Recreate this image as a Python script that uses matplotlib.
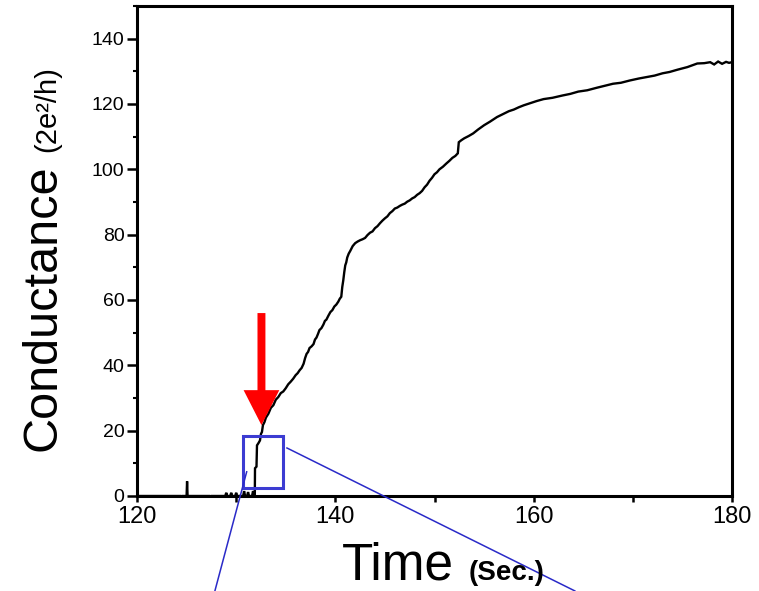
import matplotlib
matplotlib.use("Agg")
import matplotlib.pyplot as plt
from matplotlib.lines import Line2D
from matplotlib.patches import Rectangle

plt.rcParams['font.family'] = ['Liberation Sans', 'DejaVu Sans']

# ---- data ----
time_s = [120.0, 124.4, 124.5, 124.6, 125.0, 125.05, 125.1, 125.15, 127.3, 127.4, 127.5,
          128.9, 129.0, 129.1, 129.4, 129.5, 129.6, 129.9, 130.0, 130.1, 130.35, 130.4, 130.45,
          130.7, 130.8, 130.9, 131.1, 131.2, 131.3, 131.6, 131.7, 131.8,
          131.88, 131.9, 132.05, 132.1, 132.25, 132.4, 132.5, 132.6, 132.7, 132.85, 133.0,
          133.25, 133.5, 133.75, 134.0, 134.25, 134.5, 134.75, 135.0, 135.25, 135.5, 135.75,
          136.0, 136.2, 136.4, 136.6, 136.8, 136.95, 137.1, 137.25, 137.4, 137.6, 137.8,
          137.95, 138.1, 138.25, 138.4, 138.6, 138.8, 138.95, 139.1, 139.3, 139.5, 139.7,
          139.9, 140.1, 140.3, 140.45, 140.6, 140.65, 140.7, 140.8, 140.9, 141.0, 141.1,
          141.2, 141.35, 141.5, 141.75, 142.0, 142.25, 142.5, 142.75, 143.0, 143.25, 143.5,
          143.75, 144.0, 144.25, 144.5, 144.75, 145.0, 145.25, 145.5, 145.75, 146.0, 146.25,
          146.5, 146.75, 147.0, 147.25, 147.5, 147.75, 148.0, 148.25, 148.5, 148.75, 149.0,
          149.25, 149.5, 149.75, 150.0, 150.25, 150.5, 150.85, 151.2, 151.5, 151.8, 152.1,
          152.35, 152.45, 152.7, 153.0, 153.45, 153.9, 154.4, 155.0, 155.6, 156.3, 156.9,
          157.5, 158.0, 158.5, 159.0, 159.6, 160.3, 161.0, 161.9, 162.9, 163.7, 164.5,
          165.4, 166.4, 167.2, 168.0, 168.8, 169.7, 170.6, 171.5, 172.2, 173.0, 173.7,
          174.5, 175.5, 176.5, 177.2, 177.8, 178.2, 178.6, 179.0, 179.4, 179.7, 180.0]
conductance = [0.0, 0.0, -0.6, 0.0, 0.0, 4.5, 0.0, 0.0, 0.0, -0.5, 0.0,
               0.0, 1.0, 0.0, 0.0, 1.0, 0.0, 0.0, 1.0, 0.0, 0.0, -1.0, 0.0,
               0.0, 1.5, 0.0, 0.0, 1.2, 0.0, 0.0, 1.5, 0.3,
               0.5, 8.5, 9.0, 15.5, 16.2, 17.0, 19.0, 19.6, 21.7, 22.6, 24.0,
               25.2, 27.0, 27.8, 29.5, 30.3, 31.5, 32.0, 33.0, 34.2, 35.0, 35.9,
               37.0, 37.6, 38.5, 39.2, 40.5, 42.2, 43.5, 44.1, 45.3, 45.8, 46.5,
               47.9, 48.5, 49.6, 50.8, 51.4, 52.5, 53.6, 54.0, 55.2, 56.3, 56.9,
               58.0, 58.6, 59.5, 60.4, 61.0, 62.5, 64.0, 66.0, 68.5, 70.6, 71.5,
               73.0, 74.2, 75.0, 76.5, 77.4, 77.9, 78.3, 78.6, 79.0, 79.9, 80.6,
               81.0, 82.0, 82.6, 83.5, 84.3, 85.0, 85.6, 86.6, 87.2, 88.0, 88.3,
               88.8, 89.2, 89.5, 90.1, 90.5, 91.1, 91.5, 92.2, 92.7, 93.4, 94.5,
               95.3, 96.5, 97.4, 98.5, 99.1, 100.0, 100.8, 101.8, 102.6, 103.5, 104.1,
               104.9, 108.3, 108.9, 109.5, 110.2, 111.0, 112.2, 113.5, 114.6, 116.0, 116.9,
               117.8, 118.3, 119.0, 119.6, 120.2, 120.9, 121.5, 121.9, 122.6, 123.1, 123.8,
               124.2, 125.0, 125.6, 126.2, 126.5, 127.2, 127.8, 128.3, 128.7, 129.4, 129.8,
               130.5, 131.3, 132.4, 132.5, 132.8, 132.1, 133.0, 132.3, 132.9, 132.6, 132.8]

x_ticks = [120, 140, 160, 180]
y_ticks = [0, 20, 40, 60, 80, 100, 120, 140]

# annotation geometry (data units)
arrow_x, arrow_top, arrow_tip = 132.55, 56.0, 21.7
box_x0, box_x1, box_y0, box_y1 = 130.7, 134.7, 2.4, 18.3
zoom_line1 = ([131.06, 127.86], [7.4, -29.0])
zoom_line2 = ([135.12, 164.15], [14.7, -29.05])

W, H = 759, 591
fig = plt.figure(figsize=(W / 100, H / 100), dpi=100)
ax = fig.add_axes([137 / W, 1 - 496 / H, (732 - 137) / W, (496 - 6) / H])

ax.plot(time_s, conductance, color='black', lw=1.7, solid_joinstyle='miter')

ax.set_xlim(120, 180)
ax.set_ylim(0, 150)
ax.set_xticks(x_ticks)
ax.set_yticks(y_ticks)
ax.set_xticks([130, 150, 170], minor=True)
ax.set_yticks([10, 30, 50, 70, 90, 110, 130, 150], minor=True)
ax.tick_params(axis='x', which='major', length=4, width=1.8, labelsize=17, pad=3, direction='out')
ax.tick_params(axis='x', which='minor', length=4, width=1.8, direction='out')
ax.tick_params(axis='y', which='major', length=7, width=1.8, labelsize=14, pad=2, direction='out')
ax.tick_params(axis='y', which='minor', length=3, width=1.5, direction='out')
for sp in ax.spines.values():
    sp.set_linewidth(2.2)

# red arrow
ax.arrow(arrow_x, arrow_top, 0, arrow_tip - arrow_top, width=0.8, head_width=3.6,
         head_length=10.7, length_includes_head=True, color='#ff0000', ec='none', zorder=5)

# blue zoom box and connector lines
ax.add_patch(Rectangle((box_x0, box_y0), box_x1 - box_x0, box_y1 - box_y0,
                       fill=False, ec='#3c3cd2', lw=2.2, zorder=6))
for lx, ly in (zoom_line1, zoom_line2):
    ax.add_line(Line2D(lx, ly, color='#2a2ac8', lw=1.1, clip_on=False, zorder=6))

# axis labels
fig.text(55 / W, 1 - 451 / H, 'Conductance', rotation=90, rotation_mode='anchor',
         ha='left', va='baseline', fontsize=35)
fig.text(55 / W, 1 - 152 / H, '(2e²/h)', rotation=90, rotation_mode='anchor',
         ha='left', va='baseline', fontsize=21)
fig.text(342 / W, 1 - 580 / H, 'Time', ha='left', va='baseline', fontsize=37)
fig.text(469 / W, 1 - 580 / H, '(Sec.)', ha='left', va='baseline', fontsize=20,
         fontweight='bold')

fig.savefig('out.png', dpi=100)
